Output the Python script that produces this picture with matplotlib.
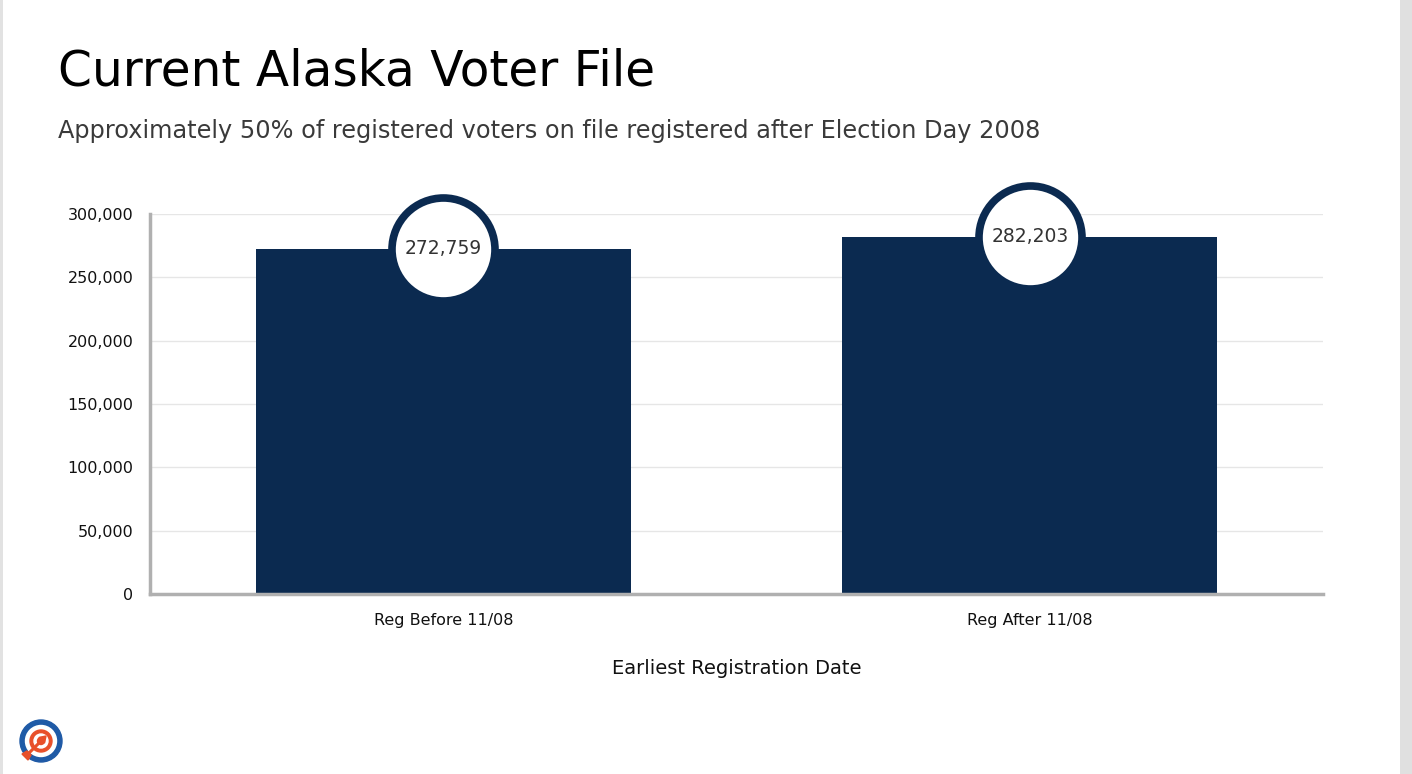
import numpy as np
import matplotlib
matplotlib.use("Agg")
import matplotlib.pyplot as plt
from matplotlib.patches import Circle, Rectangle, Polygon
from matplotlib.ticker import FuncFormatter

categories = ["Reg Before 11/08", "Reg After 11/08"]
voters = [272759, 282203]
y_ticks = [0, 50000, 100000, 150000, 200000, 250000, 300000]

title = "Current Alaska Voter File"
subtitle = "Approximately 50% of registered voters on file registered after Election Day 2008"
x_label = "Earliest Registration Date"

navy = "#0b2a50"
plt.rcParams["font.family"] = ["DejaVu Sans"]

fig = plt.figure(figsize=(14.12, 7.74), dpi=100)
fig.patch.set_facecolor("white")

# page edges
fig.add_artist(Rectangle((0, 0), 3 / 1412, 1, transform=fig.transFigure,
                         color="#e2e2e2", lw=0))
fig.add_artist(Rectangle((1400 / 1412, 0), 12 / 1412, 1, transform=fig.transFigure,
                         color="#e0e0e0", lw=0))

fig.text(58 / 1412, 1 - 86 / 774, title, fontsize=35, color="black")
fig.text(58 / 1412, 1 - 138 / 774, subtitle, fontsize=17.3, color="#3a3a3a")

ax = fig.add_axes([150 / 1412, 1 - 594 / 774, 1173 / 1412, 380 / 774])
x = np.arange(len(categories))
ax.bar(x, voters, width=0.64, color=navy, zorder=2)
ax.set_xlim(-0.5, len(categories) - 0.5)
ax.set_ylim(0, 300000)
ax.set_yticks(y_ticks)
ax.yaxis.set_major_formatter(FuncFormatter(lambda v, p: f"{int(v):,}"))
ax.set_xticks(x)
ax.set_xticklabels(categories)
ax.tick_params(axis="both", length=0, labelsize=11.5, colors="#111111")
ax.tick_params(axis="x", pad=14)
ax.tick_params(axis="y", pad=12)
ax.grid(axis="y", color="#e6e6e6", lw=1, zorder=0)
for s in ["top", "right"]:
    ax.spines[s].set_visible(False)
for s in ["left", "bottom"]:
    ax.spines[s].set_color("#b0b0b0")
    ax.spines[s].set_linewidth(2.5)
ax.set_xlabel(x_label, fontsize=14, labelpad=22, color="#111111")

# value bubbles
ax.scatter(x, voters, s=5500, facecolor="white", edgecolor=navy, linewidth=5.5,
           zorder=4, clip_on=False)
for xi, v in zip(x, voters):
    ax.text(xi, v, f"{v:,}", ha="center", va="center", fontsize=13.5,
            color="#333333", zorder=5)

# logo
cx, cy = 41 / 1412, 1 - 741 / 774
lax = fig.add_axes([cx - 25 / 1412, cy - 25 / 774, 50 / 1412, 50 / 774])
lax.set_xlim(-25, 25)
lax.set_ylim(-25, 25)
lax.axis("off")
lax.add_patch(Circle((0, 0), 21, color="#1f5aa6"))
lax.add_patch(Circle((0, 0), 15.5, color="white"))
lax.add_patch(Circle((0, 0), 11, color="#e8502a"))
lax.add_patch(Circle((0, 0), 7, color="white"))
lax.add_patch(Circle((0, 0), 3.5, color="#e8502a"))
lax.plot([1, -13], [1, -13], color="#e8502a", lw=2.2, solid_capstyle="butt")
lax.add_patch(Polygon([[5, 5], [-2, 3.5], [3.5, -2]], color="#e8502a"))
lax.add_patch(Polygon([[-10, -14], [-14, -10], [-19, -13], [-13, -19]], color="#e8502a"))

fig.savefig("out.png", dpi=100, facecolor="white")
